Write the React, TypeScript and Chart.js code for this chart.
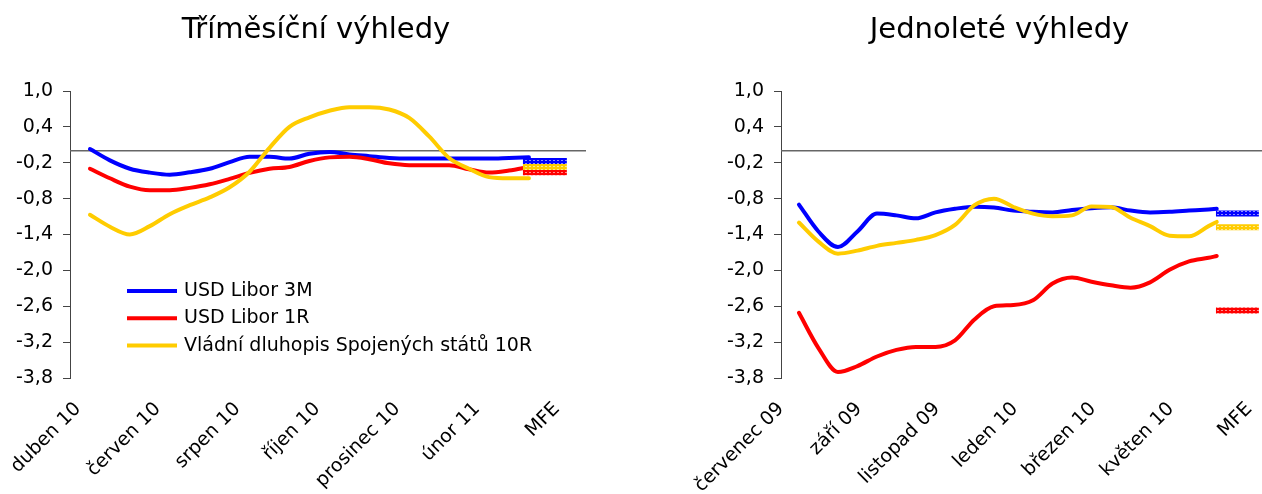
import React, { useEffect, useRef } from 'react';
import { Chart, registerables } from 'chart.js';

Chart.register(...registerables);

// ---------- shared ----------
const seriesNames = ['USD Libor 3M', 'USD Libor 1R', 'Vládní dluhopis Spojených států 10R'];
const seriesColors = ['#0000FF', '#FF0000', '#FFCC00'];
const seriesOrder = [2, 1, 0]; // yellow drawn on top
const yTicks = [1.0, 0.4, -0.2, -0.8, -1.4, -2.0, -2.6, -3.2, -3.8];
const tickMonths = [0, 2, 4, 6, 8, 10, 12];
const mfeSpan = [11.15, 12.25];

// ---------- left panel: three-month outlooks ----------
const leftTitle = 'Tříměsíční výhledy';
const leftTickLabels = ['duben 10', 'červen 10', 'srpen 10', 'říjen 10', 'prosinec 10', 'únor 11', 'MFE'];
const leftMonths = [0.3, 0.8, 1.3, 1.8, 2.3, 2.8, 3.3, 3.8, 4.3, 4.8, 5.3, 5.8, 6.3, 6.8, 7.3, 7.8, 8.3, 8.8, 9.3, 9.8, 10.3, 10.8, 11.3];
const leftLibor3M = [0.03, -0.16, -0.3, -0.365, -0.4, -0.36, -0.3, -0.19, -0.1, -0.1, -0.13, -0.05, -0.02, -0.06, -0.09, -0.12, -0.13, -0.13, -0.13, -0.13, -0.13, -0.12, -0.11];
const leftLibor1R = [-0.3, -0.46, -0.6, -0.66, -0.66, -0.62, -0.56, -0.47, -0.37, -0.3, -0.27, -0.17, -0.11, -0.1, -0.14, -0.21, -0.24, -0.24, -0.24, -0.31, -0.365, -0.33, -0.27];
const leftBond10R = [-1.07, -1.27, -1.4, -1.26, -1.06, -0.91, -0.78, -0.61, -0.35, 0.05, 0.4, 0.56, 0.67, 0.73, 0.73, 0.69, 0.55, 0.24, -0.12, -0.3, -0.44, -0.46, -0.46];
const leftMfe = [-0.17, -0.36, -0.27];

// ---------- right panel: one-year outlooks ----------
const rightTitle = 'Jednoleté výhledy';
const rightTickLabels = ['červenec 09', 'září 09', 'listopad 09', 'leden 10', 'březen 10', 'květen 10', 'MFE'];
const rightMonths = [0.46, 0.96, 1.46, 1.96, 2.46, 2.96, 3.46, 3.96, 4.46, 4.96, 5.46, 5.96, 6.46, 6.96, 7.46, 7.96, 8.46, 8.96, 9.46, 9.96, 10.46, 10.96, 11.17];
const rightLibor3M = [-0.9, -1.35, -1.61, -1.35, -1.05, -1.08, -1.13, -1.03, -0.97, -0.935, -0.95, -1.0, -1.02, -1.03, -0.99, -0.96, -0.945, -1.0, -1.03, -1.02, -1.0, -0.98, -0.97];
const rightLibor1R = [-2.71, -3.3, -3.7, -3.6, -3.44, -3.33, -3.28, -3.28, -3.17, -2.82, -2.6, -2.58, -2.5, -2.22, -2.12, -2.19, -2.25, -2.29, -2.2, -1.99, -1.85, -1.79, -1.76];
const rightBond10R = [-1.2, -1.52, -1.72, -1.67, -1.59, -1.54, -1.49, -1.41, -1.24, -0.91, -0.8, -0.94, -1.05, -1.095, -1.08, -0.93, -0.94, -1.12, -1.26, -1.42, -1.43, -1.26, -1.19];
const rightMfe = [-1.05, -2.67, -1.28];

const FONT = 'DejaVu Sans';

function bandPattern(color: string): CanvasPattern | string {
  const c = document.createElement('canvas');
  c.width = 4;
  c.height = 3;
  const g = c.getContext('2d');
  if (!g) return color;
  g.fillStyle = color;
  g.fillRect(0, 0, 4, 3);
  g.fillStyle = 'rgba(255,255,255,0.55)';
  g.fillRect(1, 1, 2, 1);
  return g.createPattern(c, 'repeat') || color;
}

const zeroLinePlugin = {
  id: 'zeroLine',
  beforeDatasetsDraw(chart: any) {
    const { ctx, chartArea, scales } = chart;
    const y = scales.y.getPixelForValue(0);
    ctx.save();
    ctx.strokeStyle = '#666666';
    ctx.lineWidth = 1.5;
    ctx.beginPath();
    ctx.moveTo(chartArea.left, y);
    ctx.lineTo(chartArea.right, y);
    ctx.stroke();
    ctx.restore();
  },
};

function makeLegendPlugin(show: boolean) {
  return {
    id: 'inlineLegend',
    afterDatasetsDraw(chart: any) {
      if (!show) return;
      const { ctx, chartArea } = chart;
      const x0 = chartArea.left + 57;
      const y0 = chartArea.top + 200;
      const rowGap = 27.3;
      ctx.save();
      ctx.font = `19px "${FONT}"`;
      ctx.textBaseline = 'middle';
      ctx.textAlign = 'left';
      seriesNames.forEach((name, i) => {
        const y = y0 + i * rowGap;
        ctx.strokeStyle = seriesColors[i];
        ctx.lineWidth = 4;
        ctx.beginPath();
        ctx.moveTo(x0, y);
        ctx.lineTo(x0 + 50, y);
        ctx.stroke();
        ctx.fillStyle = '#000';
        ctx.fillText(name, x0 + 57, y);
      });
      ctx.restore();
    },
  };
}

type PanelProps = {
  left: number;
  width: number;
  padLeft: number;
  title: string;
  labels: string[];
  months: number[];
  series: number[][];
  mfe: number[];
  xMin: number;
  xMax: number;
  yWidth: number;
  padRight: number;
  legend: boolean;
};

function Panel(p: PanelProps) {
  const ref = useRef<HTMLCanvasElement>(null);
  useEffect(() => {
    if (!ref.current) return;
    const lineSets = p.series.map((vals, i) => ({
      label: seriesNames[i],
      data: p.months.map((m, k) => ({ x: m, y: vals[k] })),
      borderColor: seriesColors[i],
      backgroundColor: seriesColors[i],
      borderWidth: 4,
      pointRadius: 0,
      cubicInterpolationMode: 'monotone' as const,
      borderCapStyle: 'round' as const,
      borderJoinStyle: 'round' as const,
      fill: false,
      order: seriesOrder[i] + 3,
    }));
    const mfeSets = p.mfe.map((v, i) => ({
      label: seriesNames[i] + ' MFE',
      data: [
        { x: mfeSpan[0], y: v },
        { x: mfeSpan[1], y: v },
      ],
      borderColor: bandPattern(seriesColors[i]),
      borderWidth: 6,
      borderCapStyle: 'butt' as const,
      pointRadius: 0,
      tension: 0,
      fill: false,
      order: seriesOrder[i],
    }));
    const chart = new Chart(ref.current, {
      type: 'line',
      data: { datasets: [...lineSets, ...mfeSets] as any },
      plugins: [zeroLinePlugin, makeLegendPlugin(p.legend)],
      options: {
        animation: false,
        responsive: false,
        events: [],
        layout: { padding: { left: p.padLeft, right: 0, top: 0, bottom: 0 } },
        plugins: {
          legend: { display: false },
          tooltip: { enabled: false },
          title: {
            display: true,
            text: p.title,
            color: '#000',
            font: { family: FONT, size: 29, weight: 'normal' },
            padding: { top: 13, bottom: 43.2 },
          },
        },
        scales: {
          x: {
            type: 'linear',
            min: p.xMin,
            max: p.xMax,
            afterBuildTicks: (s: any) => {
              s.ticks = tickMonths.map((v) => ({ value: v }));
            },
            afterFit: (s: any) => {
              s.height = 116;
              s.paddingLeft = 0;
              s.paddingRight = p.padRight;
            },
            ticks: {
              autoSkip: false,
              minRotation: 45,
              maxRotation: 45,
              padding: 12,
              color: '#000',
              font: { family: FONT, size: 19 },
              callback: (_v: any, i: number) => p.labels[i],
            },
            grid: { display: false },
            border: { display: false },
          },
          y: {
            type: 'linear',
            min: -3.8,
            max: 1.0,
            afterBuildTicks: (s: any) => {
              s.ticks = yTicks.map((v) => ({ value: v }));
            },
            afterFit: (s: any) => {
              s.width = p.yWidth;
            },
            ticks: {
              padding: 10,
              color: '#000',
              font: { family: FONT, size: 19 },
              callback: (v: any) => Number(v).toFixed(1).replace('.', ','),
            },
            grid: { drawOnChartArea: false, drawTicks: true, tickLength: 7, color: '#444' },
            border: { display: true, color: '#444', width: 1 },
          },
        },
      } as any,
    });
    return () => chart.destroy();
  }, []);
  return (
    <canvas
      ref={ref}
      width={p.width}
      height={494}
      style={{ position: 'absolute', left: p.left, top: 0, width: p.width, height: 494 }}
    />
  );
}

export default function App() {
  return (
    <div style={{ position: 'absolute', left: 0, top: 0, width: 1262, height: 494, background: '#fff', overflow: 'hidden' }}>
      <Panel
        left={0}
        width={632}
        padLeft={0}
        title={leftTitle}
        labels={leftTickLabels}
        months={leftMonths}
        series={[leftLibor3M, leftLibor1R, leftBond10R]}
        mfe={leftMfe}
        xMin={-0.2}
        xMax={12.73}
        yWidth={70}
        padRight={46}
        legend={true}
      />
      <Panel
        left={680}
        width={592}
        padLeft={47}
        title={rightTitle}
        labels={rightTickLabels}
        months={rightMonths}
        series={[rightLibor3M, rightLibor1R, rightBond10R]}
        mfe={rightMfe}
        xMin={0.0}
        xMax={12.33}
        yWidth={54}
        padRight={10}
        legend={false}
      />
    </div>
  );
}
